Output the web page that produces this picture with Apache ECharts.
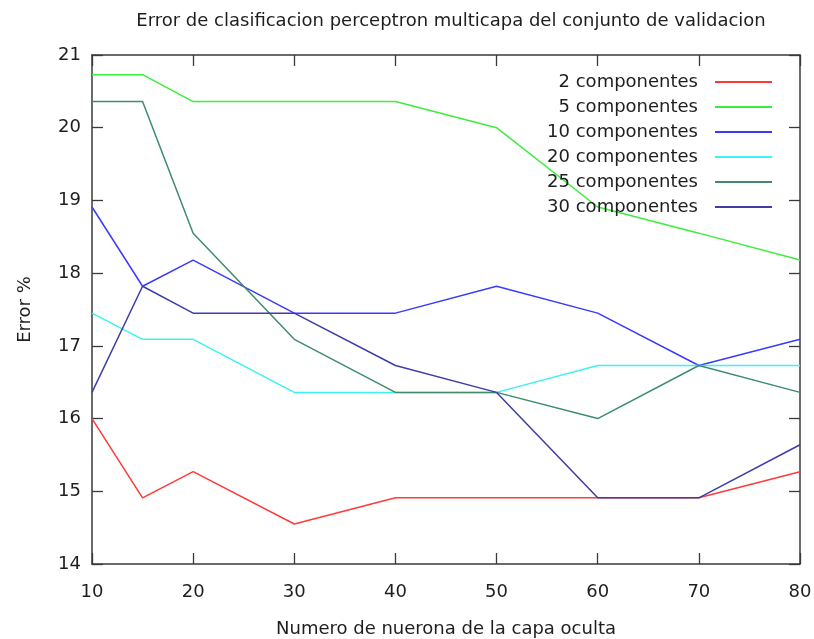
<!DOCTYPE html>
<html>
<head>
<meta charset="utf-8">
<script src="https://cdn.jsdelivr.net/npm/echarts@6/dist/echarts.min.js"></script>
<style>
  html, body { margin: 0; padding: 0; background: #fff; }
  #chart { width: 814px; height: 639px; }
</style>
</head>
<body>
<div id="chart"></div>
<script>
// Hidden-layer neuron counts
const neuronas = [10, 15, 20, 30, 40, 50, 60, 70, 80];

// Validation error (%) for each number of components
const comp2  = [16.00, 14.91, 15.27, 14.55, 14.91, 14.91, 14.91, 14.91, 15.27];
const comp5  = [20.73, 20.73, 20.36, 20.36, 20.36, 20.00, 18.91, 18.55, 18.18];
const comp10 = [18.91, 17.82, 18.18, 17.45, 17.45, 17.82, 17.45, 16.73, 17.09];
const comp20 = [17.45, 17.09, 17.09, 16.36, 16.36, 16.36, 16.73, 16.73, 16.73];
const comp25 = [20.36, 20.36, 18.55, 17.09, 16.36, 16.36, 16.00, 16.73, 16.36];
const comp30 = [16.36, 17.82, 17.45, 17.45, 16.73, 16.36, 14.91, 14.91, 15.64];

const seriesNames = ['2 componentes', '5 componentes', '10 componentes',
                     '20 componentes', '25 componentes', '30 componentes'];
const seriesData = [comp2, comp5, comp10, comp20, comp25, comp30];
const seriesColors = ['#ff3a3a', '#3cee3c', '#3a3aff', '#3cf2f2', '#3d8d6b', '#3e3ea6'];

const FONT = '"DejaVu Sans", "Liberation Sans", Arial, sans-serif';
const TEXT = '#1e1e1e';
const AXIS = '#3a3a3a';
const FS = 18;

// Plot box edges in pixels
const GRID = { left: 92, right: 14, top: 55, bottom: 75 };
const W = 814;
const plotCenterX = GRID.left + (W - GRID.left - GRID.right) / 2;

const chart = echarts.init(document.getElementById('chart'), null, { renderer: 'canvas' });

const series = seriesNames.map((name, i) => ({
  name: name,
  type: 'line',
  data: neuronas.map((x, j) => [x, seriesData[i][j]]),
  showSymbol: false,
  symbol: 'none',
  lineStyle: { color: seriesColors[i], width: 1.5 },
  itemStyle: { color: seriesColors[i] },
  animation: false
}));

const tickInside = { show: true, inside: true, length: 11, lineStyle: { color: AXIS, width: 1.3 } };

chart.setOption({
  backgroundColor: '#ffffff',
  animation: false,
  title: {
    text: 'Error de clasificacion perceptron multicapa del conjunto de validacion',
    left: plotCenterX,
    textAlign: 'center',
    top: 7,
    textStyle: { fontFamily: FONT, fontSize: FS, fontWeight: 'normal', color: TEXT }
  },
  legend: {
    orient: 'vertical',
    right: 37,
    top: 68,
    align: 'right',
    itemGap: 7,
    itemWidth: 57,
    itemHeight: 2,
    icon: 'rect',
    data: seriesNames,
    textStyle: { fontFamily: FONT, fontSize: FS, color: TEXT, padding: [0, 12, 0, 0], lineHeight: 18 }
  },
  grid: {
    left: GRID.left, right: GRID.right, top: GRID.top, bottom: GRID.bottom,
    containLabel: false,
    outerBoundsMode: 'none'
  },
  xAxis: [
    {
      type: 'value',
      min: 10, max: 80, interval: 10,
      position: 'bottom',
      name: 'Numero de nuerona de la capa oculta',
      nameLocation: 'middle',
      nameGap: 56,
      nameTextStyle: { fontFamily: FONT, fontSize: FS, color: TEXT },
      axisLine: { show: true, lineStyle: { color: AXIS, width: 1.5 } },
      axisTick: tickInside,
      axisLabel: { fontFamily: FONT, fontSize: FS, color: TEXT, margin: 19 },
      splitLine: { show: false }
    },
    {
      type: 'value',
      min: 10, max: 80, interval: 10,
      position: 'top',
      axisLine: { show: true, lineStyle: { color: AXIS, width: 1.5 } },
      axisTick: tickInside,
      axisLabel: { show: false },
      splitLine: { show: false }
    }
  ],
  yAxis: [
    {
      type: 'value',
      min: 14, max: 21, interval: 1,
      position: 'left',
      name: 'Error %',
      nameLocation: 'middle',
      nameGap: 58,
      nameRotate: 90,
      nameTextStyle: { fontFamily: FONT, fontSize: FS, color: TEXT },
      axisLine: { show: true, lineStyle: { color: AXIS, width: 1.5 } },
      axisTick: tickInside,
      axisLabel: { fontFamily: FONT, fontSize: FS, color: TEXT, margin: 11 },
      splitLine: { show: false }
    },
    {
      type: 'value',
      min: 14, max: 21, interval: 1,
      position: 'right',
      axisLine: { show: true, lineStyle: { color: AXIS, width: 1.5 } },
      axisTick: tickInside,
      axisLabel: { show: false },
      splitLine: { show: false }
    }
  ],
  series: series
});
</script>
</body>
</html>
